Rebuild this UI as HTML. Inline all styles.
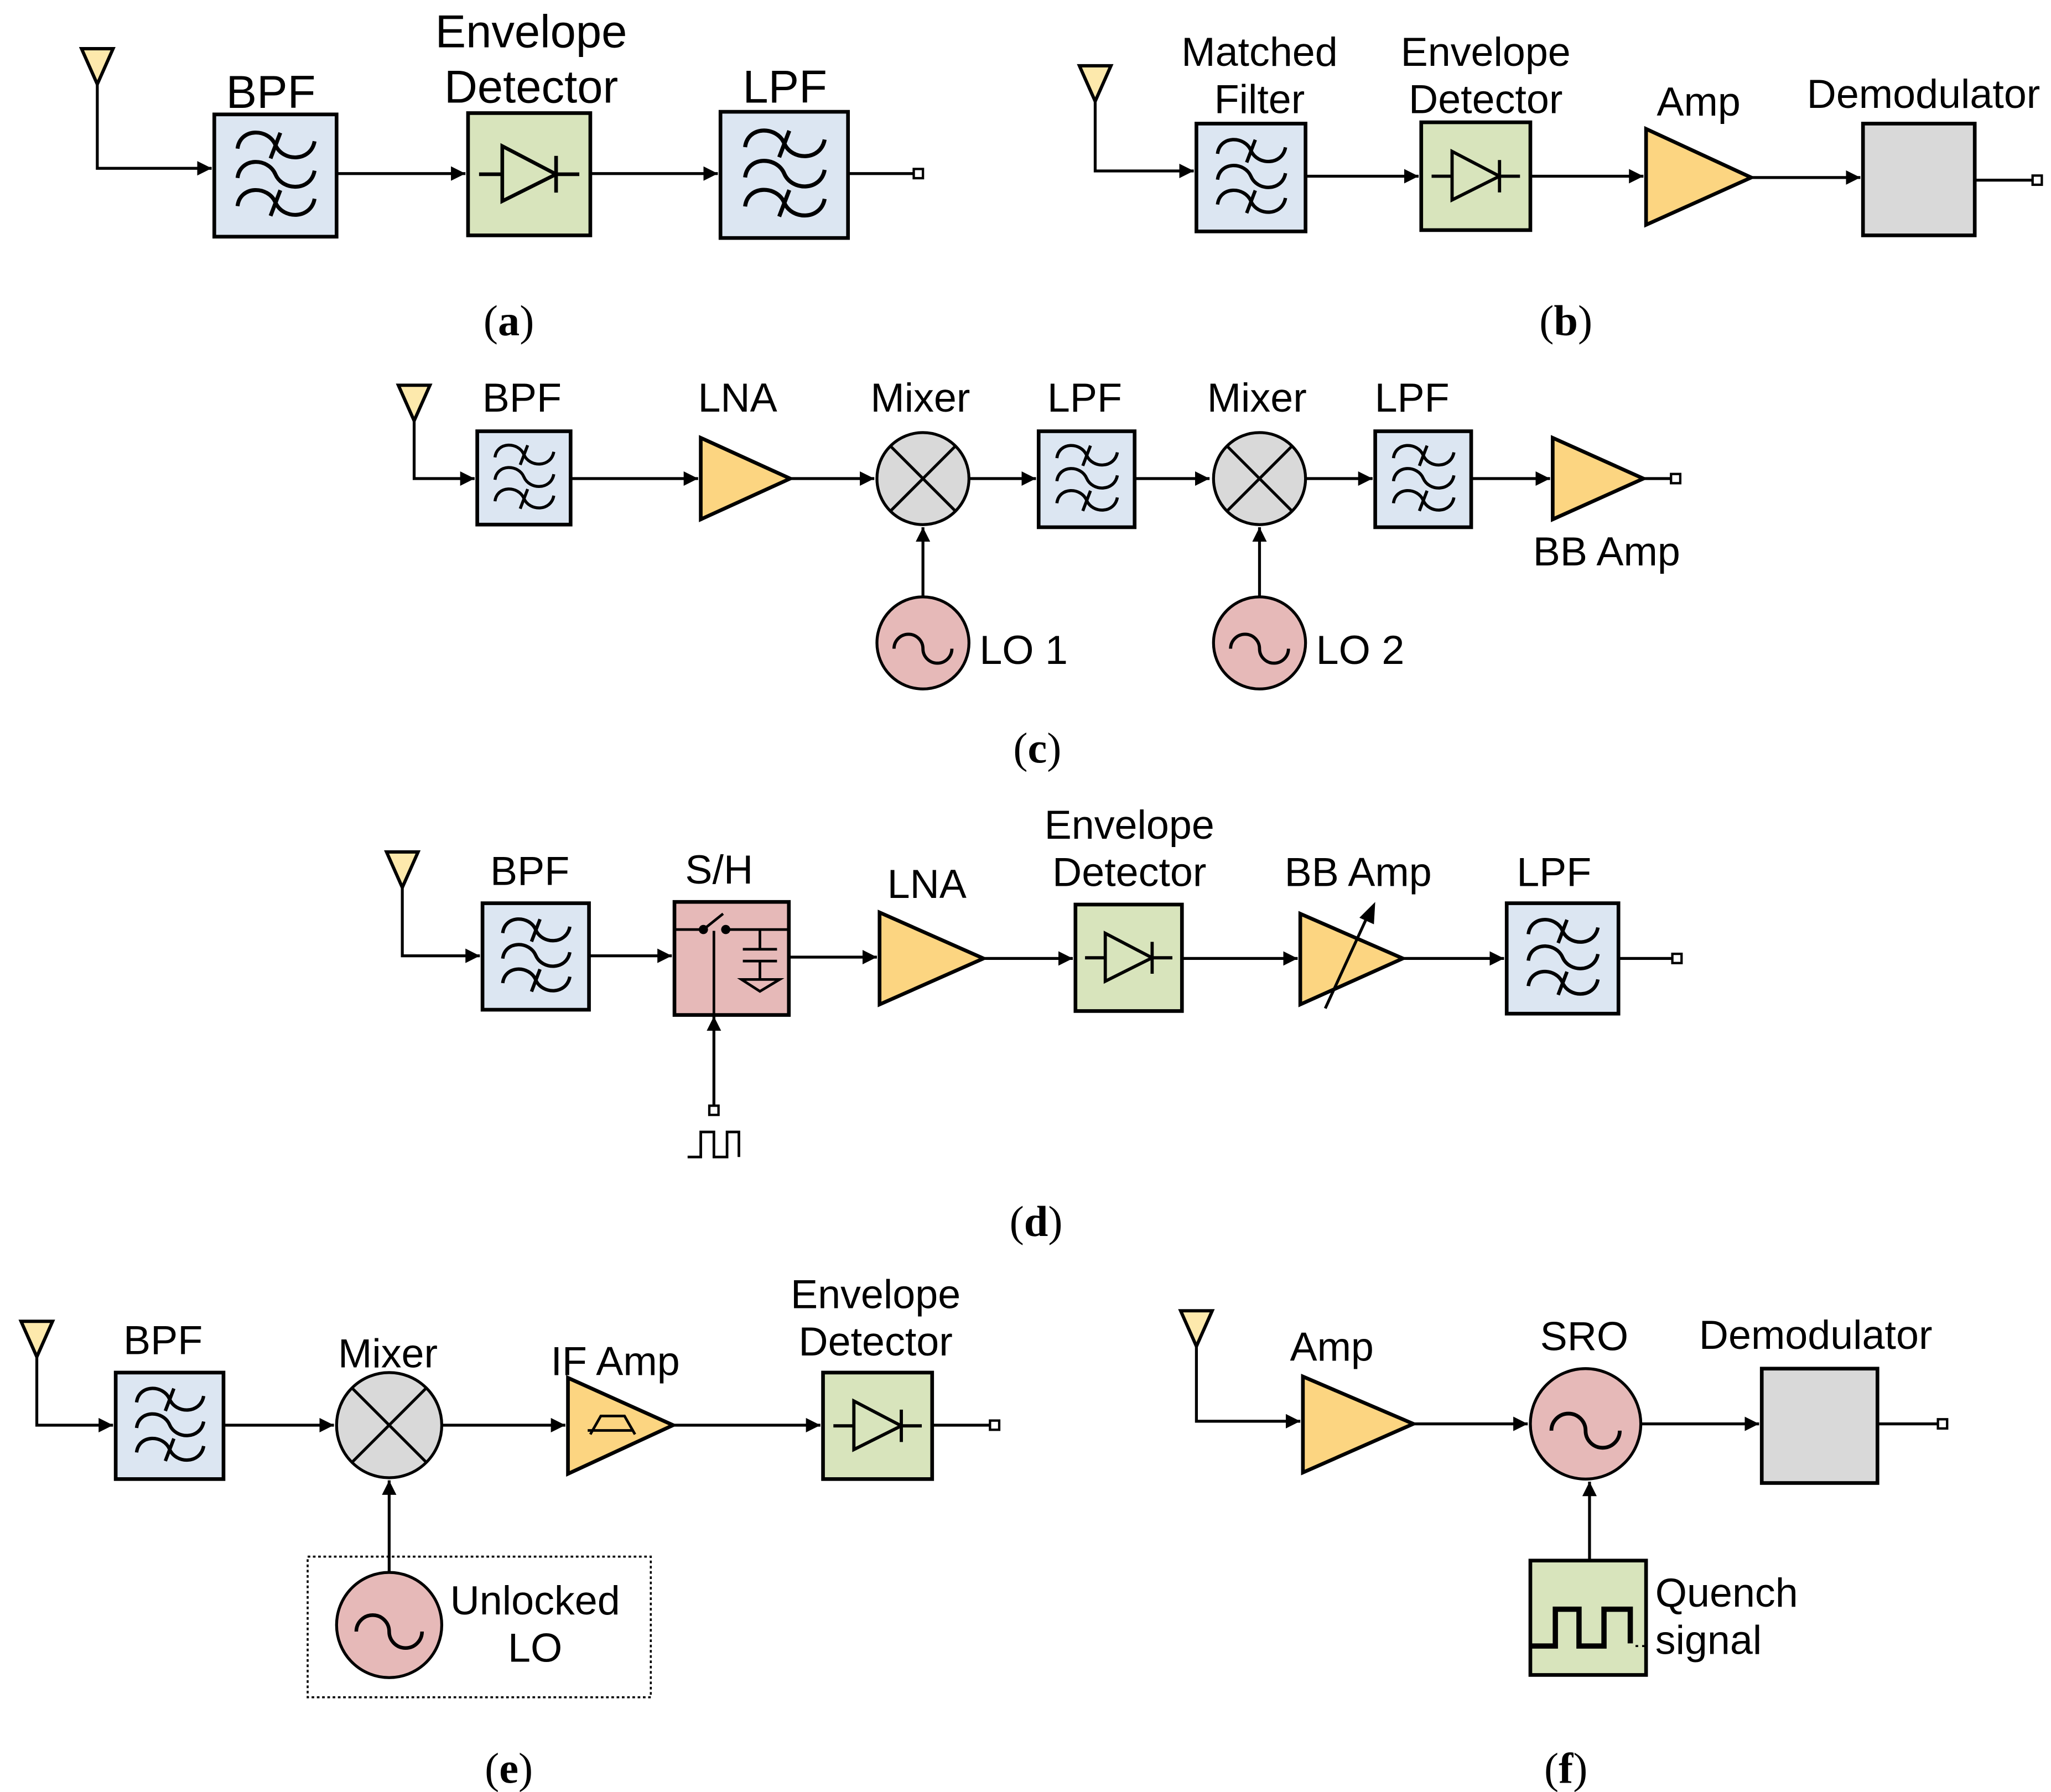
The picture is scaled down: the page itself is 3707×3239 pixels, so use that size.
<!DOCTYPE html>
<html><head><meta charset="utf-8"><style>
html,body{margin:0;padding:0;background:#fff}
svg{display:block}
text{font-family:"Liberation Sans",sans-serif;fill:#000}
.cap{font-family:"Liberation Serif",serif;font-size:33px}
</style></head><body>
<svg width="3707" height="3239" viewBox="0 0 1560 1363" xmlns="http://www.w3.org/2000/svg">
<defs>
<marker id="ar" viewBox="0 0 10 10" refX="10" refY="5" markerWidth="5" markerHeight="5" orient="auto" markerUnits="strokeWidth"><path d="M0 0 L10 5 L0 10 z" fill="#000"/></marker>
<g id="filt" fill="none" stroke="#000" stroke-width="3.2">
<path d="M-31 3 C-29 -14 -6 -14 0 0 S 29 14 32 -3" transform="translate(0,-25)"/>
<path d="M-31 3 C-29 -14 -6 -14 0 0 S 29 14 32 -3" transform="translate(0,-1)"/>
<path d="M-31 3 C-29 -14 -6 -14 0 0 S 29 14 32 -3" transform="translate(0,22)"/>
<path d="M4 -35 L-4 -14 M4 12 L-4 33"/>
</g>
<g id="diode" fill="none" stroke="#000" stroke-width="3">
<path d="M-41 0 H-22 M22 0 H41 M22 -15 V15"/>
<path d="M-22 -23 L-22 22 L22 0 Z"/>
</g>
<g id="sine" fill="none" stroke="#000" stroke-width="2.2">
<path d="M-20 4 A10 10 0 0 1 0 4 A10 10 0 0 0 20 4"/>
</g>
<g id="ant"><path d="M-12 0 H12 L0 27 Z" fill="#fde9ac" stroke="#000" stroke-width="2.5"/></g>
</defs>

<g stroke="#000" stroke-width="2.2" fill="none">
<path d="M74 62 V128 H161" marker-end="url(#ar)"/>
<path d="M256 132 H354" marker-end="url(#ar)"/>
<path d="M449 132 H546" marker-end="url(#ar)"/>
<path d="M645 132 H695"/>
<path d="M833 74 V130 H908" marker-end="url(#ar)"/>
<path d="M993 134 H1079" marker-end="url(#ar)"/>
<path d="M1164 134 H1250" marker-end="url(#ar)"/>
<path d="M1332 135 H1415" marker-end="url(#ar)"/>
<path d="M1502 137 H1546"/>
<path d="M315 316 V364 H361" marker-end="url(#ar)"/>
<path d="M434 364 H531" marker-end="url(#ar)"/>
<path d="M601 364 H665" marker-end="url(#ar)"/>
<path d="M737 364 H788" marker-end="url(#ar)"/>
<path d="M863 364 H920" marker-end="url(#ar)"/>
<path d="M993 364 H1044" marker-end="url(#ar)"/>
<path d="M1119 364 H1179" marker-end="url(#ar)"/>
<path d="M1250 364 H1271"/>
<path d="M702 454 V401" marker-end="url(#ar)"/>
<path d="M958 454 V401" marker-end="url(#ar)"/>
<path d="M306 672 V727 H365" marker-end="url(#ar)"/>
<path d="M448 727 H511" marker-end="url(#ar)"/>
<path d="M600 728 H667" marker-end="url(#ar)"/>
<path d="M748 729 H816" marker-end="url(#ar)"/>
<path d="M899 729 H987" marker-end="url(#ar)"/>
<path d="M1067 729 H1144" marker-end="url(#ar)"/>
<path d="M1231 729 H1272"/>
<path d="M543 841 V773" marker-end="url(#ar)"/>
<path d="M28 1029 V1084 H86" marker-end="url(#ar)"/>
<path d="M170 1084 H254" marker-end="url(#ar)"/>
<path d="M336 1084 H430" marker-end="url(#ar)"/>
<path d="M512 1084 H624" marker-end="url(#ar)"/>
<path d="M709 1084 H753"/>
<path d="M296 1196 V1126" marker-end="url(#ar)"/>
<path d="M910 1023 V1081 H989" marker-end="url(#ar)"/>
<path d="M1075 1083 H1162" marker-end="url(#ar)"/>
<path d="M1248 1083 H1338" marker-end="url(#ar)"/>
<path d="M1428 1083 H1474"/>
<path d="M1209 1187 V1127" marker-end="url(#ar)"/>
</g>

<g fill="#fff" stroke="#000" stroke-width="1.8">
<rect x="695" y="128.5" width="7" height="7"/>
<rect x="1546" y="133.5" width="7" height="7"/>
<rect x="1271" y="360.5" width="7" height="7"/>
<rect x="1272" y="725.5" width="7" height="7"/>
<rect x="539.5" y="841" width="7" height="7"/>
<rect x="753" y="1080.5" width="7" height="7"/>
<rect x="1474" y="1079.5" width="7" height="7"/>
</g>

<use href="#ant" x="74" y="37"/>
<use href="#ant" x="833" y="50"/>
<use href="#ant" x="315" y="293"/>
<use href="#ant" x="306" y="648"/>
<use href="#ant" x="28" y="1005"/>
<use href="#ant" x="910" y="997"/>

<g stroke="#000" stroke-width="2.8">
<rect x="163" y="87" width="93" height="93" fill="#dce6f2"/>
<rect x="548" y="85" width="97" height="96" fill="#dce6f2"/>
<rect x="910" y="94" width="83" height="82" fill="#dce6f2"/>
<rect x="363" y="328" width="71" height="71" fill="#dce6f2"/>
<rect x="790" y="328" width="73" height="73" fill="#dce6f2"/>
<rect x="1046" y="328" width="73" height="73" fill="#dce6f2"/>
<rect x="367" y="687" width="81" height="81" fill="#dce6f2"/>
<rect x="1146" y="687" width="85" height="84" fill="#dce6f2"/>
<rect x="88" y="1044" width="82" height="81" fill="#dce6f2"/>
<rect x="356" y="86" width="93" height="93" fill="#d8e4bc"/>
<rect x="1081" y="93" width="83" height="82" fill="#d8e4bc"/>
<rect x="818" y="688" width="81" height="81" fill="#d8e4bc"/>
<rect x="626" y="1044" width="83" height="81" fill="#d8e4bc"/>
<rect x="1164" y="1187" width="88" height="87" fill="#d8e4bc"/>
<rect x="1417" y="94" width="85" height="85" fill="#d9d9d9"/>
<rect x="1340" y="1041" width="88" height="87" fill="#d9d9d9"/>
<rect x="513" y="686" width="87" height="86" fill="#e6b9b8"/>
<path d="M1252 98 L1252 171 L1332 135 Z" fill="#fcd581"/>
<path d="M533 333 L533 395 L601 364 Z" fill="#fcd581"/>
<path d="M1181 333 L1181 395 L1250 364 Z" fill="#fcd581"/>
<path d="M669 694 L669 764 L748 729 Z" fill="#fcd581"/>
<path d="M989 695 L989 764 L1067 729 Z" fill="#fcd581"/>
<path d="M432 1048 L432 1121 L512 1084 Z" fill="#fcd581"/>
<path d="M991 1047 L991 1120 L1075 1083 Z" fill="#fcd581"/>
</g>
<g stroke="#000" stroke-width="2.2">
<circle cx="702" cy="364" r="35" fill="#d9d9d9"/>
<circle cx="958" cy="364" r="35" fill="#d9d9d9"/>
<circle cx="296" cy="1084" r="40" fill="#d9d9d9"/>
<path d="M677.3 339.3 L726.7 388.7 M726.7 339.3 L677.3 388.7 M933.3 339.3 L982.7 388.7 M982.7 339.3 L933.3 388.7 M267.7 1055.7 L324.3 1112.3 M324.3 1055.7 L267.7 1112.3" fill="none"/>
<circle cx="702" cy="489" r="35" fill="#e6b9b8"/>
<circle cx="958" cy="489" r="35" fill="#e6b9b8"/>
<circle cx="296" cy="1236" r="40" fill="#e6b9b8"/>
<circle cx="1206" cy="1083" r="42" fill="#e6b9b8"/>
</g>
<use href="#sine" transform="translate(702,489) scale(1.1)"/>
<use href="#sine" transform="translate(958,489) scale(1.1)"/>
<use href="#sine" transform="translate(296,1236) scale(1.25)"/>
<use href="#sine" transform="translate(1206,1083) scale(1.3)"/>

<use href="#filt" transform="translate(209.5,133.5) scale(0.93)"/>
<use href="#filt" transform="translate(596.5,133) scale(0.96)"/>
<use href="#filt" transform="translate(951.5,135) scale(0.82)"/>
<use href="#filt" transform="translate(398.5,363.5) scale(0.71)"/>
<use href="#filt" transform="translate(826.5,364.5) scale(0.73)"/>
<use href="#filt" transform="translate(1082.5,364.5) scale(0.73)"/>
<use href="#filt" transform="translate(407.5,727.5) scale(0.81)"/>
<use href="#filt" transform="translate(1188.5,729) scale(0.84)"/>
<use href="#filt" transform="translate(129,1084.5) scale(0.81)"/>
<use href="#diode" transform="translate(402.5,132.5) scale(0.93)"/>
<use href="#diode" transform="translate(1122.5,134) scale(0.82)"/>
<use href="#diode" transform="translate(858.5,728.5) scale(0.81)"/>
<use href="#diode" transform="translate(667.5,1084.5) scale(0.82)"/>

<g stroke="#000" stroke-width="2" fill="none">
<path d="M513 707 H534 M552 707 H600"/>
<path d="M535 707 L550 695"/>
<path d="M543 708 V772"/>
<path d="M578 707 V722 M565 722 H591 M565 731 H591 M578 731 V745"/>
<path d="M564 745 H593 L578 754 Z"/>
<path d="M523 880 H533 V861 H543 V880 H553 V861 H562 V880"/>
</g>
<circle cx="535" cy="707" r="3.5"/>
<circle cx="552" cy="707" r="3.5"/>
<path d="M1008 767 L1041 695" stroke="#000" stroke-width="2.2"/>
<path d="M1046 686 L1045 703 L1034 698 Z" fill="#000"/>
<path d="M447 1088 H482 M449 1091 L457 1077 H475 L483 1091" stroke="#000" stroke-width="2" fill="none"/>
<path d="M1164 1252 H1183 V1224 H1201 V1252 H1220 V1224 H1240 V1250" stroke="#000" stroke-width="4" fill="none"/>
<path d="M1244 1252 H1251" stroke="#000" stroke-width="1.5" stroke-dasharray="2 3"/>
<rect x="234" y="1184" width="261" height="107" fill="none" stroke="#000" stroke-width="1.5" stroke-dasharray="2 2"/>

<g font-size="35" text-anchor="middle">
<text x="206" y="82">BPF</text>
<text x="404" y="36">Envelope</text>
<text x="404" y="78">Detector</text>
<text x="597" y="78">LPF</text>
</g>
<g font-size="31" text-anchor="middle">
<text x="958" y="50">Matched</text>
<text x="958" y="86">Filter</text>
<text x="1130" y="50">Envelope</text>
<text x="1130" y="86">Detector</text>
<text x="1292" y="88">Amp</text>
<text x="1463" y="82">Demodulator</text>
<text x="397" y="313">BPF</text>
<text x="561" y="313">LNA</text>
<text x="700" y="313">Mixer</text>
<text x="825" y="313">LPF</text>
<text x="956" y="313">Mixer</text>
<text x="1074" y="313">LPF</text>
<text x="1222" y="430">BB Amp</text>
<text x="403" y="673">BPF</text>
<text x="547" y="672">S/H</text>
<text x="705" y="683">LNA</text>
<text x="859" y="638">Envelope</text>
<text x="859" y="674">Detector</text>
<text x="1033" y="674">BB Amp</text>
<text x="1182" y="674">LPF</text>
<text x="124" y="1030">BPF</text>
<text x="295" y="1040">Mixer</text>
<text x="468" y="1046">IF Amp</text>
<text x="666" y="995">Envelope</text>
<text x="666" y="1031">Detector</text>
<text x="407" y="1228">Unlocked</text>
<text x="407" y="1264">LO</text>
<text x="1013" y="1035">Amp</text>
<text x="1205" y="1027">SRO</text>
<text x="1381" y="1026">Demodulator</text>
</g>
<g font-size="31">
<text x="745" y="505">LO 1</text>
<text x="1001" y="505">LO 2</text>
<text x="1259" y="1222">Quench</text>
<text x="1259" y="1258">signal</text>
</g>
<g class="cap" text-anchor="middle">
<text x="387" y="255" class="cap">(<tspan font-weight="bold">a</tspan>)</text>
<text x="1191" y="255" class="cap">(<tspan font-weight="bold">b</tspan>)</text>
<text x="789" y="580" class="cap">(<tspan font-weight="bold">c</tspan>)</text>
<text x="788" y="940" class="cap">(<tspan font-weight="bold">d</tspan>)</text>
<text x="387" y="1356" class="cap">(<tspan font-weight="bold">e</tspan>)</text>
<text x="1191" y="1356" class="cap">(<tspan font-weight="bold">f</tspan>)</text>
</g>
</svg>
</body></html>
